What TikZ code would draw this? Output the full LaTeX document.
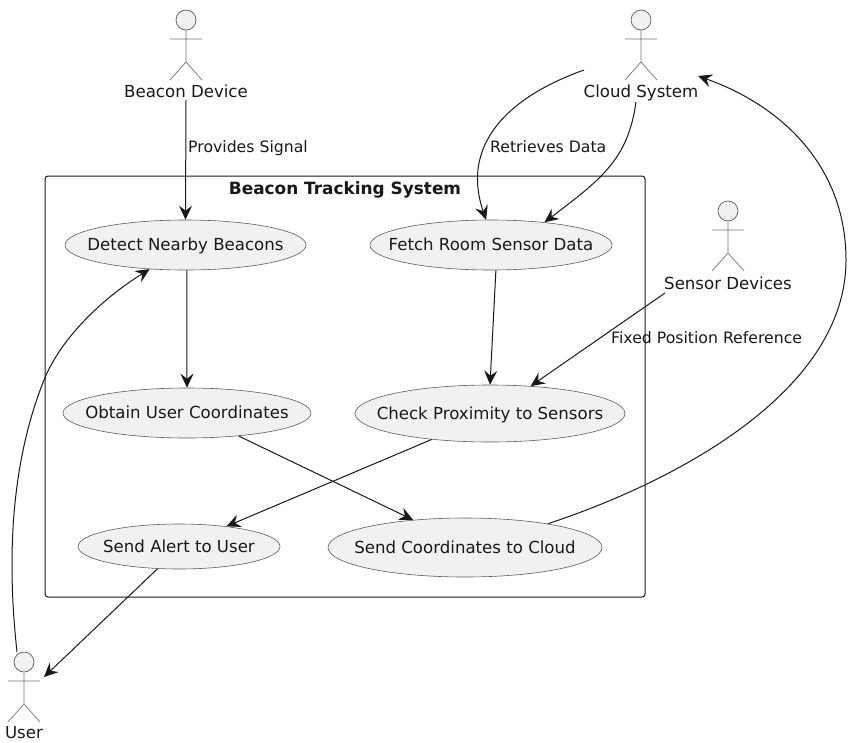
\documentclass[tikz,border=0pt]{standalone}
\usepackage{fontspec}
\setmainfont{DejaVu Sans}
\usetikzlibrary{arrows.meta,shapes.geometric}
\definecolor{ink}{HTML}{181818}
\definecolor{fillc}{HTML}{F1F1F1}
\newcommand{\nodefont}{\fontsize{16.6}{19}\selectfont}
\newcommand{\edgefont}{\fontsize{15.7}{18}\selectfont}
\newcommand{\ct}[1]{\makebox[0pt][c]{#1}}
\tikzset{
  x=1pt,y=-1pt,
  every node/.style={text=ink},
  txt/.style={font=\nodefont,inner sep=0pt,text height=12pt,text depth=3.5pt},
  edgetxt/.style={font=\edgefont,inner sep=0pt,text height=12pt,text depth=3.5pt},
  uc/.style={ellipse,draw=ink!70,line width=0.6pt,fill=fillc,inner sep=0pt,font=\nodefont,text height=15pt,text depth=3.5pt},
  head/.style={circle,draw=ink!70,line width=0.7pt,fill=fillc,minimum size=20pt,inner sep=0pt},
  limb/.style={draw=ink!60,line width=0.7pt},
  conn/.style={draw=ink,line width=1pt,-{Stealth[length=14pt,width=13pt,inset=5pt]}},
  frame/.style={draw=ink,line width=1pt,rounded corners=3pt},
}
\newcommand{\myactor}[5]{% id, x, head y, label y, text
  \node[head] (#1h) at (#2,#3) {};
  \coordinate (#1w) at (#2-16,#3+19);
  \coordinate (#1e) at (#2+16,#3+19);
  \coordinate (#1b) at (#2,#3+42);
  \coordinate (#1l) at (#2-16,#3+60);
  \coordinate (#1r) at (#2+16,#3+60);
  \draw[limb] (#1h.south) -- (#1b) -- (#1l) (#1b) -- (#1r) (#1w) -- (#1e);
  \node[txt] (#1t) at (#2,#4) {#5};
}
\begin{document}
\begin{tikzpicture}
\useasboundingbox (0,0) rectangle (867,742);
\node[frame,minimum width=600pt,minimum height=421pt,inner sep=0pt] (sys) at (345,386.5) {};
\node[txt,font=\fontsize{16.9}{19}\selectfont\bfseries] (title) at (345,190.5) {Beacon Tracking System};

\myactor{beacon}{186}{20}{93}{Beacon Device}
\myactor{cloud}{641}{20}{93}{Cloud System}
\myactor{sensor}{728}{211}{285}{Sensor Devices}
\myactor{user}{24}{662}{734.5}{User}

\node[uc,minimum width=241pt,minimum height=50pt] (detect) at (185.5,245) {\ct{Detect Nearby Beacons}};
\node[uc,minimum width=242pt,minimum height=50pt] (fetch) at (491,245) {\ct{Fetch Room Sensor Data}};
\node[uc,minimum width=248pt,minimum height=50pt] (obtain) at (187,413) {\ct{Obtain User Coordinates}};
\node[uc,minimum width=270pt,minimum height=57pt] (check) at (490,413.5) {\ct{Check Proximity to Sensors}};
\node[uc,minimum width=202pt,minimum height=45pt] (alert) at (179,546.5) {\ct{Send Alert to User}};
\node[uc,minimum width=274pt,minimum height=59pt] (cloudsend) at (465,547.5) {\ct{Send Coordinates to Cloud}};

\node[edgetxt,anchor=west] (l1) at (188,148) {Provides Signal};
\node[edgetxt,anchor=west] (l2) at (490,148) {Retrieves Data};
\node[edgetxt,anchor=west] (l3) at (611,339) {Fixed Position Reference};

\coordinate (beaconOut) at (186,100);
\coordinate (cloudA) at (584,70);
\coordinate (cloudB) at (636,102);
\coordinate (cloudIn) at (698,76);
\coordinate (sensorOut) at (665,293);
\coordinate (userOut) at (17,652);
\coordinate (userIn) at (44,677);

\draw[conn] (beaconOut) -- (detect.north);
\draw[conn] (cloudA) .. controls (500,100) and (462,150) .. (fetch.101);
\draw[conn] (cloudB) .. controls (628,160) and (600,180) .. (fetch.23);
\draw[conn] (fetch.-79) -- (check.north);
\draw[conn] (sensorOut) -- (check.34.5);
\draw[conn] (detect.-87) -- (obtain.north);
\draw[conn] (obtain.-24) -- (cloudsend.152.5);
\draw[conn] (check.-156) -- (alert.23.6);
\draw[conn] (alert.-134) -- (userIn);
\draw[conn] (userOut) .. controls (8,570) and (8,470) .. (44,380) .. controls (60,340) and (100,300) .. (detect.-146);
\draw[conn] (cloudsend.16) .. controls (680,480) and (846,390) .. (846,260) .. controls (846,165) and (780,105) .. (cloudIn);
\end{tikzpicture}
\end{document}
